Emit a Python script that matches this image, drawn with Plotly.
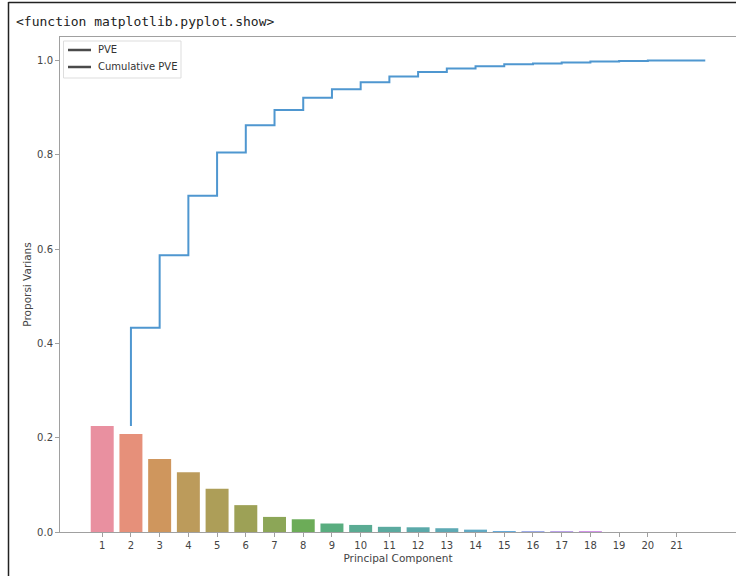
import math
import colorsys
import plotly.graph_objects as go

# ---- data ----
components = [str(i) for i in range(1, 22)]
pve = [0.225, 0.208, 0.155, 0.127, 0.092, 0.057, 0.032, 0.027, 0.018, 0.015,
       0.011, 0.010, 0.008, 0.005, 0.002, 0.002, 0.0015, 0.0015, 0.0, 0.0, 0.0]
cumulative_pve = [0.225, 0.433, 0.587, 0.713, 0.805, 0.863, 0.895, 0.921, 0.939, 0.954,
                  0.966, 0.976, 0.983, 0.988, 0.992, 0.994, 0.996, 0.998, 0.999, 1.0, 1.0]
y_ticks = [0.0, 0.2, 0.4, 0.6, 0.8, 1.0]
legend_labels = ["PVE", "Cumulative PVE"]

# ---- seaborn-like husl palette (desaturated 0.75) ----
_m = [[3.2406, -1.5372, -0.4986], [-0.9689, 1.8758, 0.0415], [0.0557, -0.2040, 1.0570]]
_refU, _refV = 0.19784, 0.46834


def _max_chroma(L, H):
    hrad = math.radians(H)
    sinH, cosH = math.sin(hrad), math.cos(hrad)
    sub1 = (L + 16) ** 3 / 1560896.0
    sub2 = sub1 if sub1 > 0.008856 else L / 903.3
    result = float("inf")
    for m1, m2, m3 in _m:
        top = (0.99915 * m1 + 1.05122 * m2 + 1.14460 * m3) * sub2
        rb = 0.86330 * m3 - 0.17266 * m2
        lb = 0.12949 * m3 - 0.38848 * m1
        bottom = (rb * sinH + lb * cosH) * sub2
        for t in (0.0, 1.0):
            C = L * (top - 1.05122 * t) / (bottom + 0.17266 * sinH * t)
            if 0.0 < C < result:
                result = C
    return result


def _husl_to_rgb(h, s, l):
    C = _max_chroma(l, h) / 100.0 * s
    hr = math.radians(h)
    U, V = math.cos(hr) * C, math.sin(hr) * C
    t = (l + 16.0) / 116.0
    varY = t ** 3 if t ** 3 > 0.008856 else (116.0 * t - 16.0) / 903.3
    varU = U / (13.0 * l) + _refU
    varV = V / (13.0 * l) + _refV
    Y = varY
    X = -(9.0 * Y * varU) / ((varU - 4.0) * varV - varU * varV)
    Z = (9.0 * Y - 15.0 * varV * Y - varV * X) / (3.0 * varV)
    out = []
    for row in _m:
        c = row[0] * X + row[1] * Y + row[2] * Z
        c = 12.92 * c if c <= 0.0031308 else 1.055 * c ** (1 / 2.4) - 0.055
        out.append(min(max(c, 0.0), 1.0))
    return out


def _palette(n, lighten=0.12):
    cols = []
    for i in range(n):
        h = ((i / n) + 0.01) % 1 * 359
        r, g, b = _husl_to_rgb(h, 0.9 * 99, 0.65 * 99)
        hh, ll, ss = colorsys.rgb_to_hls(r, g, b)
        r, g, b = colorsys.hls_to_rgb(hh, ll, ss * 0.75)
        r, g, b = [c + (1 - c) * lighten for c in (r, g, b)]
        cols.append("#%02x%02x%02x" % (round(r * 255), round(g * 255), round(b * 255)))
    return cols


bar_colors = _palette(len(pve))
positions = list(range(len(pve)))
step_x = list(range(1, len(cumulative_pve) + 1))

fig = go.Figure()
fig.add_trace(go.Bar(x=positions, y=pve, marker=dict(color=bar_colors, line=dict(width=0)),
                     width=0.8, showlegend=False, hoverinfo="y", name="PVE"))
fig.add_trace(go.Scatter(x=step_x, y=cumulative_pve, mode="lines", line_shape="vh",
                         line=dict(color="#4f97d0", width=2), showlegend=False,
                         name="Cumulative PVE"))

L, R, T, B = 60, 0, 37, 44
W, H = 736, 576
pw, ph = W - L - R, H - T - B


def px(xp):
    return (xp - L) / pw


def py(yp):
    return (H - B - yp) / ph


axis_common = dict(showline=True, linecolor="#a0a0a0", linewidth=1, mirror=True,
                   ticks="outside", ticklen=4, tickcolor="#a0a0a0", showgrid=False,
                   zeroline=False, tickfont=dict(family="DejaVu Sans", size=10, color="#444444"))

shapes = [
    dict(type="line", xref="paper", yref="paper", x0=px(8.5), x1=px(8.5),
         y0=py(2), y1=py(576), line=dict(color="#222222", width=1.5)),
    dict(type="line", xref="paper", yref="paper", x0=px(8.5), x1=px(736),
         y0=py(2.5), y1=py(2.5), line=dict(color="#222222", width=1.5)),
    # legend box
    dict(type="rect", xref="paper", yref="paper", x0=px(63.5), x1=px(181),
         y0=py(41), y1=py(78), line=dict(color="#dddddd", width=1),
         fillcolor="rgba(255,255,255,0.85)"),
]
annotations = [
    dict(text="&lt;function matplotlib.pyplot.show&gt;", xref="paper", yref="paper",
         x=px(14), y=py(21), xanchor="left", yanchor="middle", showarrow=False,
         font=dict(family="DejaVu Sans Mono", size=13, color="#222222")),
]
legend_rows = [50, 67]
for label, yrow in zip(legend_labels, legend_rows):
    shapes.append(dict(type="line", xref="paper", yref="paper", x0=px(68), x1=px(91),
                       y0=py(yrow), y1=py(yrow), line=dict(color="#4a4a4a", width=2.5)))
    annotations.append(dict(text=label, xref="paper", yref="paper", x=px(96), y=py(yrow),
                            xanchor="left", yanchor="middle", showarrow=False,
                            font=dict(family="DejaVu Sans", size=10, color="#333333")))

fig.update_layout(
    width=W, height=H,
    margin=dict(l=L, r=R, t=T, b=B),
    paper_bgcolor="white", plot_bgcolor="white",
    bargap=0.2,
    showlegend=False,
    xaxis=dict(range=[-1.47, 22.07], tickvals=positions, ticktext=components,
               title=dict(text="Principal Component", standoff=4,
                          font=dict(family="DejaVu Sans", size=10.5, color="#444444")),
               **axis_common),
    yaxis=dict(range=[0, 1.05], tickvals=y_ticks, tickformat=".1f",
               title=dict(text="Proporsi Varians", standoff=3,
                          font=dict(family="DejaVu Sans", size=10.5, color="#444444")),
               **axis_common),
    shapes=shapes,
    annotations=annotations,
)

fig.write_html("out.html", config={"displayModeBar": False},
               post_script="document.body.style.margin='0';"
                           "document.body.style.overflow='hidden';")
